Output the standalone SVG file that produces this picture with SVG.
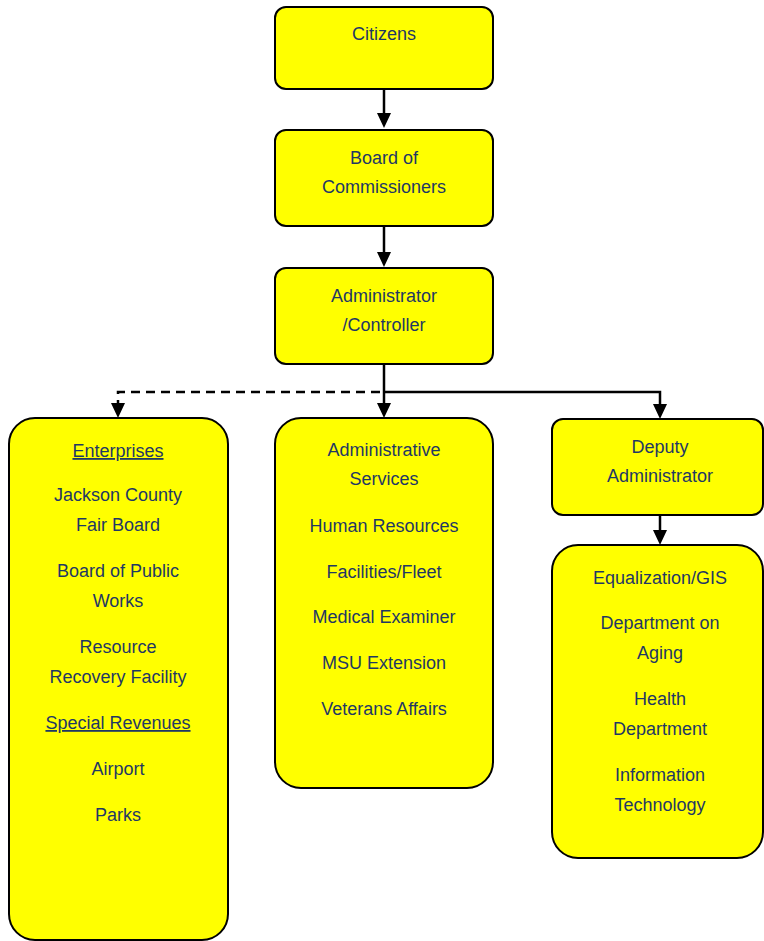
<svg xmlns="http://www.w3.org/2000/svg" width="764" height="941" viewBox="0 0 764 941">
<style>
.box{fill:#ffff00;stroke:#000;stroke-width:2}
.t{font-family:"Liberation Sans",Arial,sans-serif;font-size:18px;fill:#1f3864;text-anchor:middle}
.u{text-decoration:underline}
.c{stroke:#000;stroke-width:2.5;fill:none}
.d{stroke:#000;stroke-width:2.5;fill:none;stroke-dasharray:9 6}
.a{fill:#000}
</style>
<rect width="764" height="941" fill="#fff"/>
<g id="connectors">
<path class="c" d="M384,89 V114"/>
<path class="a" d="M377,113 H391 L384,128 Z"/>
<path class="c" d="M384,226 V253"/>
<path class="a" d="M377,252 H391 L384,267 Z"/>
<path class="c" d="M384,364 V404"/>
<path class="a" d="M377,403 H391 L384,418 Z"/>
<path class="c" d="M384,392 H660 V405"/>
<path class="a" d="M653,404 H667 L660,419 Z"/>
<path class="d" d="M380,392 H118 V404"/>
<path class="a" d="M111,403 H125 L118,418 Z"/>
<path class="c" d="M660,515 V531"/>
<path class="a" d="M653,530 H667 L660,545 Z"/>
</g>
<g id="citizens">
<rect class="box" x="275" y="7" width="218" height="82" rx="11"/>
<text class="t" x="384" y="40">Citizens</text>
</g>
<g id="board">
<rect class="box" x="275" y="130" width="218" height="96" rx="11"/>
<text class="t" x="384" y="164">Board of</text>
<text class="t" x="384" y="193">Commissioners</text>
</g>
<g id="administrator">
<rect class="box" x="275" y="268" width="218" height="96" rx="11"/>
<text class="t" x="384" y="302">Administrator</text>
<text class="t" x="384" y="331">/Controller</text>
</g>
<g id="enterprises">
<rect class="box" x="9" y="418" width="219" height="522" rx="26"/>
<text class="t u" x="118" y="457">Enterprises</text>
<text class="t" x="118" y="501">Jackson County</text>
<text class="t" x="118" y="531">Fair Board</text>
<text class="t" x="118" y="577">Board of Public</text>
<text class="t" x="118" y="607">Works</text>
<text class="t" x="118" y="653">Resource</text>
<text class="t" x="118" y="683">Recovery Facility</text>
<text class="t u" x="118" y="729">Special Revenues</text>
<text class="t" x="118" y="775">Airport</text>
<text class="t" x="118" y="821">Parks</text>
</g>
<g id="admin-services">
<rect class="box" x="275" y="418" width="218" height="370" rx="26"/>
<text class="t" x="384" y="456">Administrative</text>
<text class="t" x="384" y="485">Services</text>
<text class="t" x="384" y="532">Human Resources</text>
<text class="t" x="384" y="578">Facilities/Fleet</text>
<text class="t" x="384" y="623">Medical Examiner</text>
<text class="t" x="384" y="669">MSU Extension</text>
<text class="t" x="384" y="715">Veterans Affairs</text>
</g>
<g id="deputy">
<rect class="box" x="552" y="419" width="211" height="96" rx="11"/>
<text class="t" x="660" y="453">Deputy</text>
<text class="t" x="660" y="482">Administrator</text>
</g>
<g id="deputy-depts">
<rect class="box" x="552" y="545" width="211" height="313" rx="26"/>
<text class="t" x="660" y="584">Equalization/GIS</text>
<text class="t" x="660" y="629">Department on</text>
<text class="t" x="660" y="659">Aging</text>
<text class="t" x="660" y="705">Health</text>
<text class="t" x="660" y="735">Department</text>
<text class="t" x="660" y="781">Information</text>
<text class="t" x="660" y="811">Technology</text>
</g>
</svg>
